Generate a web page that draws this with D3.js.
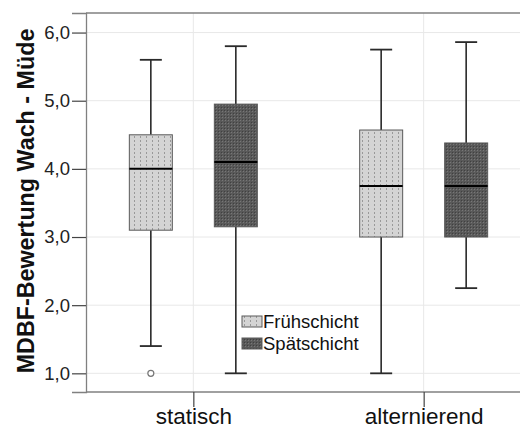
<!DOCTYPE html>
<meta charset="utf-8">
<head>
<script src="https://d3js.org/d3.v7.min.js"></script>
<style>
  body { margin: 0; background: #fff; }
  text { font-family: "Liberation Sans", Arial, sans-serif; }
</style>
</head>
<body>
<div id="container"></div>
<script>

// data
var groups = ["statisch", "alternierend"];
var shifts = ["Frühschicht", "Spätschicht"];
var whiskerLow  = [[1.40, 1.00], [1.00, 2.25]];
var q1          = [[3.10, 3.15], [3.00, 3.00]];
var median      = [[4.00, 4.10], [3.75, 3.75]];
var q3          = [[4.50, 4.95], [4.57, 4.38]];
var whiskerHigh = [[5.60, 5.80], [5.75, 5.86]];
var outliers    = [[[1.0], []], [[], []]];
var yTicks = [1, 2, 3, 4, 5, 6];

var width = 520, height = 430;
var mLeft = 86, mTop = 13, mBottom = 392, mRight = 531;

var svg = d3.select('#container')
  .append('svg')
  .attr('width', width)
  .attr('height', height);

var defs = svg.append('defs');
var p1 = defs.append('pattern').attr('id', 'fruh')
  .attr('patternUnits', 'userSpaceOnUse').attr('width', 6).attr('height', 4);
p1.append('rect').attr('width', 6).attr('height', 4).attr('fill', '#d4d4d4');
p1.append('rect').attr('x', 2).attr('width', 1).attr('height', 2).attr('fill', '#999');
var p2 = defs.append('pattern').attr('id', 'spat')
  .attr('patternUnits', 'userSpaceOnUse').attr('width', 3).attr('height', 3);
p2.append('rect').attr('width', 3).attr('height', 3).attr('fill', '#595959');
p2.append('rect').attr('width', 1).attr('height', 1).attr('fill', '#777');
p2.append('rect').attr('x', 2).attr('y', 2).attr('width', 1).attr('height', 1).attr('fill', '#404040');
var fills = ['url(#fruh)', 'url(#spat)'];

var y = d3.scaleLinear().domain([0.726, 6.287]).range([mBottom, mTop]);
var x = d3.scalePoint().domain(groups).range([mLeft, mRight]).padding(0.466);
var sub = d3.scaleBand().domain(shifts).range([-85, 85]);
var boxW = 43, capW = 22;

// gridlines
svg.append('g').selectAll('line').data(yTicks).enter().append('line')
  .attr('x1', mLeft).attr('x2', width)
  .attr('y1', d => y(d)).attr('y2', d => y(d))
  .attr('stroke', '#e8e8e8').attr('stroke-width', 1);
svg.append('g').selectAll('line').data(groups).enter().append('line')
  .attr('x1', d => x(d)).attr('x2', d => x(d))
  .attr('y1', mTop).attr('y2', mBottom)
  .attr('stroke', '#e8e8e8').attr('stroke-width', 1);

// frame
svg.append('line').attr('x1', mLeft).attr('x2', width).attr('y1', mTop).attr('y2', mTop)
  .attr('stroke', '#808080').attr('stroke-width', 1.3);

// boxes
groups.forEach(function(g, gi) {
  shifts.forEach(function(s, si) {
    var cx = x(g) + sub(s) + sub.bandwidth() / 2;
    var box = svg.append('g');
    box.append('line')
      .attr('x1', cx).attr('x2', cx)
      .attr('y1', y(whiskerHigh[gi][si])).attr('y2', y(q3[gi][si]))
      .attr('stroke', '#2a2a2a').attr('stroke-width', 1.6);
    box.append('line')
      .attr('x1', cx).attr('x2', cx)
      .attr('y1', y(q1[gi][si])).attr('y2', y(whiskerLow[gi][si]))
      .attr('stroke', '#2a2a2a').attr('stroke-width', 1.6);
    [whiskerHigh[gi][si], whiskerLow[gi][si]].forEach(function(v) {
      box.append('line')
        .attr('x1', cx - capW / 2).attr('x2', cx + capW / 2)
        .attr('y1', y(v)).attr('y2', y(v))
        .attr('stroke', '#2a2a2a').attr('stroke-width', 1.8);
    });
    box.append('rect')
      .attr('x', cx - boxW / 2).attr('width', boxW)
      .attr('y', y(q3[gi][si])).attr('height', y(q1[gi][si]) - y(q3[gi][si]))
      .attr('fill', fills[si]).attr('stroke', '#5a5a5a').attr('stroke-width', 1);
    box.append('line')
      .attr('x1', cx - boxW / 2).attr('x2', cx + boxW / 2)
      .attr('y1', y(median[gi][si])).attr('y2', y(median[gi][si]))
      .attr('stroke', '#000').attr('stroke-width', 2);
    outliers[gi][si].forEach(function(v) {
      box.append('circle').attr('cx', cx).attr('cy', y(v)).attr('r', 3)
        .attr('fill', '#fff').attr('stroke', '#777').attr('stroke-width', 1.2);
    });
  });
});

// axes
var yAxis = svg.append('g').attr('transform', 'translate(' + mLeft + ',0)')
  .call(d3.axisLeft(y).tickValues(yTicks).tickSize(14).tickPadding(2)
    .tickFormat(d => d3.format('.1f')(d).replace('.', ',')));
yAxis.select('.domain').attr('stroke', '#808080').attr('stroke-width', 1.3);
yAxis.selectAll('.tick line').attr('stroke', '#444').attr('stroke-width', 1.2);
yAxis.selectAll('.tick text').attr('font-size', 18.5).attr('fill', '#222');

var xAxis = svg.append('g').attr('transform', 'translate(0,' + mBottom + ')')
  .call(d3.axisBottom(x).tickSize(15).tickPadding(1));
xAxis.select('.domain').attr('stroke', '#808080').attr('stroke-width', 1.3).attr('d', 'M' + mLeft + ',0H' + width);
xAxis.selectAll('.tick line').attr('stroke', '#444').attr('stroke-width', 1.2);
xAxis.selectAll('.tick text').attr('font-size', 22.5).attr('fill', '#111');

svg.append('text')
  .attr('transform', 'translate(34,201) rotate(-90)')
  .attr('text-anchor', 'middle')
  .attr('font-size', 23.3).attr('font-weight', 'bold').attr('fill', '#111')
  .text('MDBF-Bewertung Wach - Müde');

// legend
var legend = svg.append('g').attr('transform', 'translate(242,316)');
shifts.forEach(function(s, i) {
  legend.append('rect').attr('x', 0).attr('y', i * 22).attr('width', 20).attr('height', 11)
    .attr('fill', fills[i]).attr('stroke', '#5a5a5a').attr('stroke-width', 1);
  legend.append('text').attr('x', 21).attr('y', i * 22 + 12)
    .attr('font-size', 18.5).attr('fill', '#111').text(s);
});

</script>
</body>
